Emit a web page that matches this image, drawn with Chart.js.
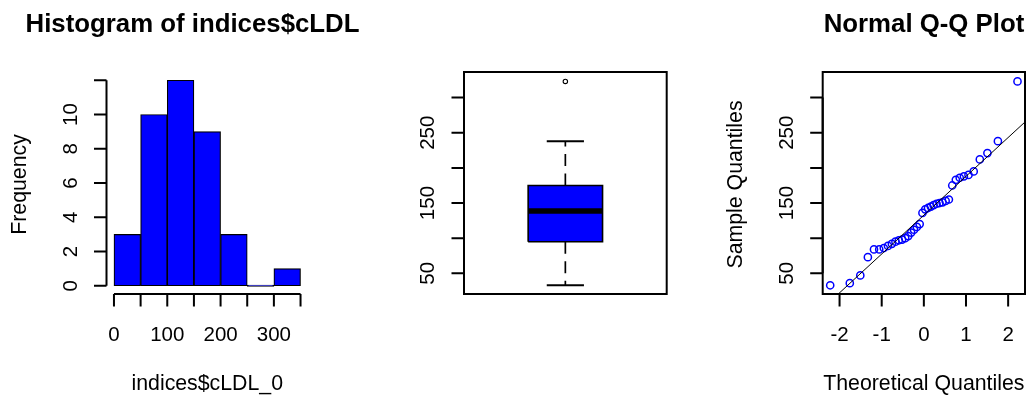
<!DOCTYPE html>
<html>
<head>
<meta charset="utf-8">
<script src="https://cdn.jsdelivr.net/npm/chart.js@4.4.1/dist/chart.umd.min.js"></script>
<style>
  html, body { margin: 0; padding: 0; background: #fff; }
  body { width: 1032px; height: 397px; position: relative; overflow: hidden; }
  .panel { position: absolute; top: 0; height: 397px; }
</style>
</head>
<body>
<div class="panel" style="left:0;width:380px"><canvas id="hist"></canvas></div>
<div class="panel" style="left:380px;width:330px"><canvas id="box"></canvas></div>
<div class="panel" style="left:710px;width:322px"><canvas id="qq"></canvas></div>
<script>
// cLDL sample, sorted
const cLDL = [33, 36, 47, 73, 84, 84, 86, 89, 92, 95, 97, 98, 100,
  103, 108, 112, 116, 120, 136, 141, 143, 145, 147, 149, 150,
  151, 153, 155, 175, 183, 186, 188, 190, 195, 212, 221, 238, 323];
// theoretical normal quantiles for n = 38
const theoQ = [-2.222, -1.757, -1.508, -1.328, -1.183, -1.059, -0.950, -0.851, -0.759, -0.674,
  -0.594, -0.517, -0.443, -0.371, -0.301, -0.233, -0.166, -0.099, -0.033,
  0.033, 0.099, 0.166, 0.233, 0.301, 0.371, 0.443, 0.517, 0.594,
  0.674, 0.759, 0.851, 0.950, 1.059, 1.183, 1.328, 1.508, 1.757, 2.222];

const binEdges = [0, 50, 100, 150, 200, 250, 300, 350];
const freq = [3, 10, 12, 9, 3, 0, 1];

// lower whisker, Q1, median, Q3, upper whisker
const boxStats = [33, 95, 138.5, 175, 238];
const outliers = [323];

const histXTicks = [0, 50, 100, 150, 200, 250, 300, 350];
const histXLabels = ['0', '', '100', '', '200', '', '300', ''];
const histYTicks = [0, 2, 4, 6, 8, 10, 12];
const histYLabels = ['0', '2', '4', '6', '8', '10', ''];
const valTicks = [50, 100, 150, 200, 250, 300];
const valLabels = ['50', '', '150', '', '250', ''];
const qqXTicks = [-2, -1, 0, 1, 2];
const qqXLabels = ['-2', '-1', '0', '1', '2'];

const BLUE = '#0000ff';
const FONT = '"Liberation Sans", Arial, sans-serif';
const TICK = 12.5;

// R style axes, frame and titles
const rAxes = {
  id: 'rAxes',
  afterDatasetsDraw(chart, args, o) {
    const ctx = chart.ctx, a = chart.chartArea;
    const xs = chart.scales.x, ys = chart.scales.y;
    ctx.save();
    ctx.strokeStyle = '#000';
    ctx.fillStyle = '#000';
    ctx.lineWidth = 2;
    if (o.frame) ctx.strokeRect(a.left, a.top, a.right - a.left, a.bottom - a.top);

    ctx.font = '20.5px ' + FONT;
    ctx.textAlign = 'center';
    ctx.textBaseline = 'alphabetic';
    if (o.xTicks) {
      const px = o.xTicks.map(v => xs.getPixelForValue(v));
      ctx.beginPath();
      ctx.moveTo(px[0], a.bottom);
      ctx.lineTo(px[px.length - 1], a.bottom);
      px.forEach(p => { ctx.moveTo(p, a.bottom); ctx.lineTo(p, a.bottom + TICK); });
      ctx.stroke();
      o.xLabels.forEach((t, i) => { if (t) ctx.fillText(t, px[i], a.bottom + 46.5); });
    }
    if (o.yTicks) {
      const py = o.yTicks.map(v => ys.getPixelForValue(v));
      ctx.beginPath();
      ctx.moveTo(a.left, py[0]);
      ctx.lineTo(a.left, py[py.length - 1]);
      py.forEach(p => { ctx.moveTo(a.left, p); ctx.lineTo(a.left - TICK, p); });
      ctx.stroke();
      o.yLabels.forEach((t, i) => {
        if (!t) return;
        ctx.save();
        ctx.translate(a.left - 30, py[i]);
        ctx.rotate(-Math.PI / 2);
        ctx.fillText(t, 0, 0);
        ctx.restore();
      });
    }
    ctx.font = '21.3px ' + FONT;
    if (o.xlab) ctx.fillText(o.xlab, (a.left + a.right) / 2, a.bottom + 95.5);
    if (o.ylab) {
      ctx.save();
      ctx.translate(a.left - 80.5, (a.top + a.bottom) / 2 + 1.5);
      ctx.rotate(-Math.PI / 2);
      ctx.fillText(o.ylab, 0, 0);
      ctx.restore();
    }
    if (o.title) {
      ctx.font = 'bold 25.8px ' + FONT;
      ctx.fillText(o.title, o.titleX, 31.5);
    }
    ctx.restore();
  }
};

const base = {
  animation: false,
  responsive: true,
  maintainAspectRatio: false,
  events: []
};

// histogram
new Chart(document.getElementById('hist'), {
  type: 'bar',
  data: {
    datasets: [{
      data: freq.map((f, i) => ({ x: (binEdges[i] + binEdges[i + 1]) / 2, y: f })),
      backgroundColor: BLUE,
      borderColor: '#000',
      borderWidth: 1.2,
      borderSkipped: false,
      minBarLength: 1.4,
      barPercentage: 1,
      categoryPercentage: 1
    }]
  },
  options: Object.assign({}, base, {
    layout: { padding: { left: 106.5, right: 72, top: 72, bottom: 103 } },
    plugins: {
      legend: { display: false },
      tooltip: { enabled: false },
      rAxes: {
        title: 'Histogram of indices$cLDL', titleX: 192.5,
        xlab: 'indices$cLDL_0', ylab: 'Frequency',
        xTicks: histXTicks, xLabels: histXLabels,
        yTicks: histYTicks, yLabels: histYLabels
      }
    },
    scales: {
      x: {
        type: 'linear', min: -14, max: 364, offset: false, display: false,
        ticks: { stepSize: 50, includeBounds: false }
      },
      y: { min: -0.48, max: 12.48, display: false }
    }
  }),
  plugins: [rAxes]
});

// boxplot
const boxWidth = 0.367;
const L = 1 - boxWidth / 2, R = 1 + boxWidth / 2;
const lineDs = (pts, extra) => Object.assign({
  data: pts, showLine: true, borderColor: '#000', borderWidth: 1.7,
  pointRadius: 0, fill: false, order: 1
}, extra);

new Chart(document.getElementById('box'), {
  type: 'scatter',
  data: {
    datasets: [
      // box from Q1 to Q3
      lineDs([
        { x: L, y: boxStats[1] }, { x: R, y: boxStats[1] },
        { x: R, y: boxStats[3] }, { x: L, y: boxStats[3] }, { x: L, y: boxStats[1] }
      ], { fill: 'shape', backgroundColor: BLUE, borderWidth: 1.6, order: 2 }),
      lineDs([{ x: L, y: boxStats[2] }, { x: R, y: boxStats[2] }], { borderWidth: 5.5, order: 0 }),
      lineDs([{ x: 1, y: boxStats[3] }, { x: 1, y: boxStats[4] }], { borderDash: [12, 7.5] }),
      lineDs([{ x: 1, y: boxStats[1] }, { x: 1, y: boxStats[0] }], { borderDash: [12, 7.5] }),
      lineDs([{ x: 1 - boxWidth / 4, y: boxStats[4] }, { x: 1 + boxWidth / 4, y: boxStats[4] }], { borderWidth: 2 }),
      lineDs([{ x: 1 - boxWidth / 4, y: boxStats[0] }, { x: 1 + boxWidth / 4, y: boxStats[0] }], { borderWidth: 2 }),
      lineDs(outliers.map(v => ({ x: 1, y: v })), {
        showLine: false, pointRadius: 2.2, pointBorderWidth: 1.1, pointBorderColor: '#000',
        pointBackgroundColor: 'rgba(0,0,0,0)'
      })
    ]
  },
  options: Object.assign({}, base, {
    layout: { padding: { left: 84, right: 43.3, top: 72, bottom: 103 } },
    plugins: {
      legend: { display: false },
      tooltip: { enabled: false },
      rAxes: { frame: true, yTicks: valTicks, yLabels: valLabels }
    },
    scales: {
      x: { type: 'linear', min: 0.5, max: 1.5, display: false },
      y: { min: 20.6, max: 336.4, display: false }
    }
  }),
  plugins: [rAxes]
});

// Q-Q plot with the quartile line
const quant = (arr, p) => {
  const h = (arr.length - 1) * p, lo = Math.floor(h);
  return arr[lo] + (h - lo) * (arr[lo + 1] - arr[lo]);
};
const q1 = quant(cLDL, 0.25), q3 = quant(cLDL, 0.75);
const slope = (q3 - q1) / (0.6745 * 2);
const icpt = q1 + 0.6745 * slope;
const lineX = [-2.4, 2.4];

new Chart(document.getElementById('qq'), {
  type: 'scatter',
  data: {
    datasets: [
      {
        data: theoQ.map((z, i) => ({ x: z, y: cLDL[i] })),
        pointRadius: 3.6, pointBorderWidth: 1.5, pointBorderColor: BLUE,
        pointBackgroundColor: 'rgba(0,0,0,0)', order: 1
      },
      {
        type: 'line', data: lineX.map(z => ({ x: z, y: icpt + slope * z })),
        borderColor: '#000', borderWidth: 1, pointRadius: 0, fill: false, order: 0
      }
    ]
  },
  options: Object.assign({}, base, {
    layout: { padding: { left: 112.7, right: 7, top: 72, bottom: 103 } },
    plugins: {
      legend: { display: false },
      tooltip: { enabled: false },
      rAxes: {
        frame: true, title: 'Normal Q-Q Plot', titleX: 214,
        xlab: 'Theoretical Quantiles', ylab: 'Sample Quantiles',
        xTicks: qqXTicks, xLabels: qqXLabels,
        yTicks: valTicks, yLabels: valLabels
      }
    },
    scales: {
      x: { type: 'linear', min: -2.4, max: 2.4, display: false },
      y: { min: 20.6, max: 336.4, display: false }
    }
  }),
  plugins: [rAxes]
});
</script>
</body>
</html>
